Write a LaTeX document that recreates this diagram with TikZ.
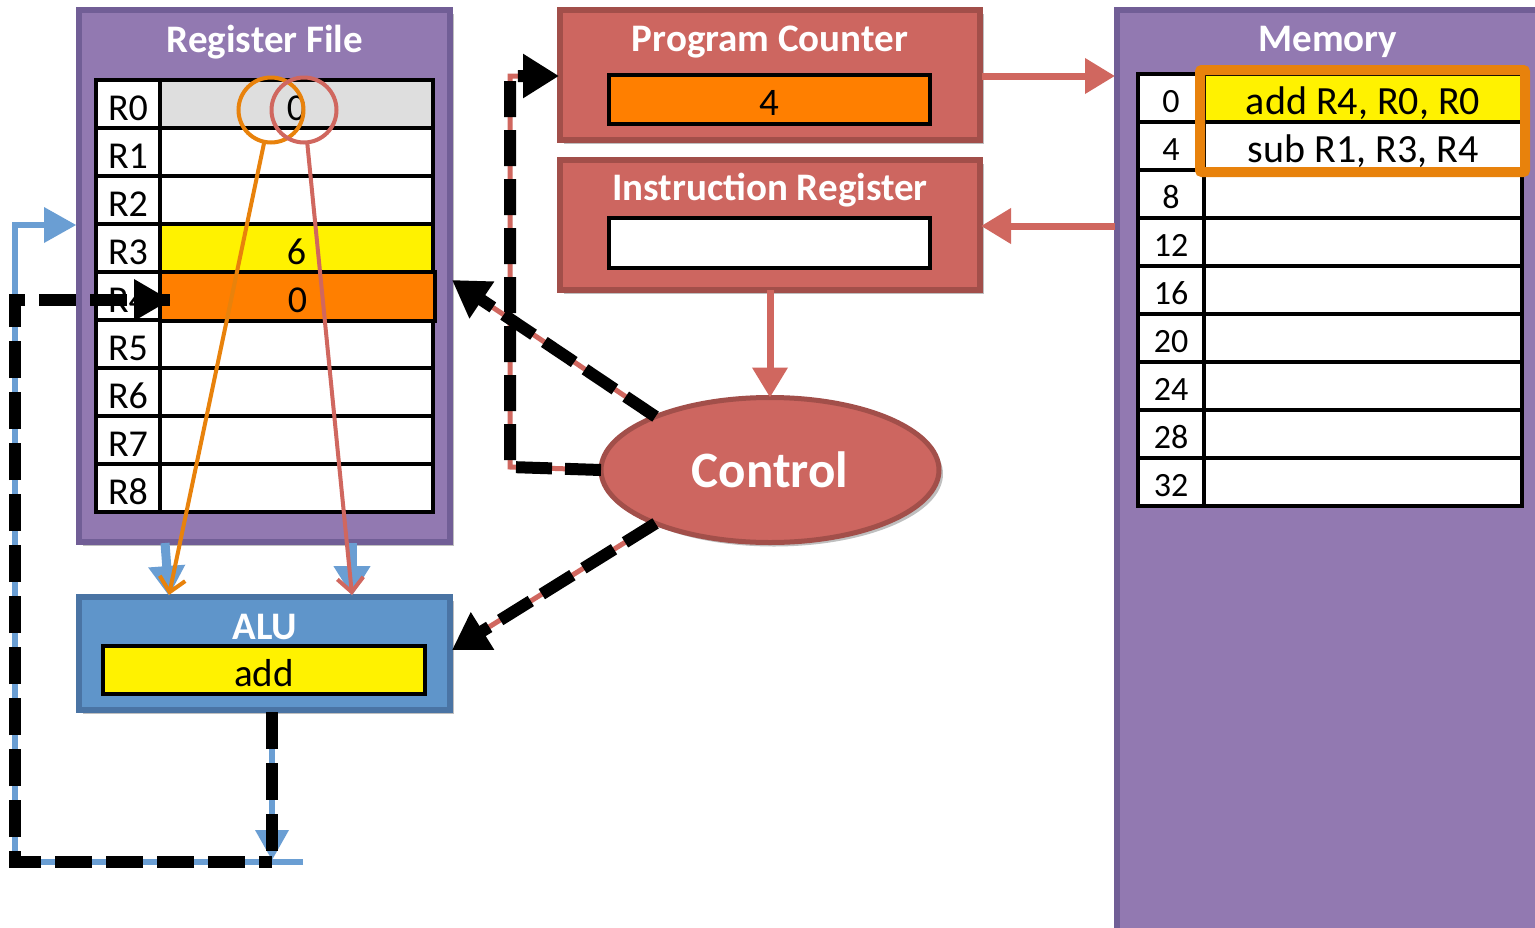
\documentclass[tikz,border=0pt]{standalone}
\usepackage{fontspec}
\setmainfont{Carlito}
\usetikzlibrary{arrows.meta,shapes.geometric,shadows,calc}
\definecolor{purp}{HTML}{9279B1}
\definecolor{purpd}{HTML}{715E96}
\definecolor{redf}{HTML}{CD6660}
\definecolor{redd}{HTML}{A24F4A}
\definecolor{bluef}{HTML}{5F95CA}
\definecolor{blued}{HTML}{4A74A4}
\definecolor{bluel}{HTML}{6A9ED3}
\definecolor{orng}{HTML}{FF7F00}
\definecolor{orhl}{HTML}{E8820C}
\definecolor{gry}{HTML}{DEDEDE}
\definecolor{redl}{HTML}{D0675F}
\begin{document}
\begin{tikzpicture}[x=1pt,y=-1pt,
  every node/.style={inner sep=0pt, outer sep=0pt},
  shad/.style={drop shadow={shadow xshift=4pt, shadow yshift=-4pt, opacity=0.25, fill=black}},
  boxp/.style={draw=purpd, fill=purp, line width=5.5pt, anchor=north west, shad},
  boxr/.style={draw=redd, fill=redf, line width=5.5pt, anchor=north west, shad},
  boxb/.style={draw=blued, fill=bluef, line width=5.5pt, anchor=north west, shad},
  ttl/.style={text=white, font=\fontsize{39}{39}\selectfont\bfseries},
  cellr/.style={draw=black, line width=3.5pt, minimum height=48pt, anchor=north west,
                text height=32pt, text depth=0pt, font=\fontsize{38}{38}\selectfont},
  cellm/.style={draw=black, line width=3.5pt, minimum height=48pt, anchor=north west,
                text height=28pt, text depth=0pt, font=\fontsize{34}{34}\selectfont},
  inbox/.style={draw=black, line width=4pt, anchor=north west,
                text height=32pt, text depth=0pt, font=\fontsize{39}{39}\selectfont},
  redarrow/.style={redl, line width=7pt, -{Triangle[length=30pt,width=34pt]}},
  bluearrow/.style={bluel, line width=9pt, -{Triangle[length=30pt,width=35pt]}},
  ctlline/.style={redl, line width=5pt},
  ctldash/.style={black, line width=12pt, dash pattern=on 36pt off 13pt, -{Triangle[length=36pt,width=42pt]}},
  loopdash/.style={black, line width=12pt, dash pattern=on 37pt off 14pt},
  selcirc/.style={circle, line width=4pt, minimum size=65pt}
]
\useasboundingbox (0,0) rectangle (1535,927);
\clip (0,0) rectangle (1535,927);
\fill[white] (0,0) rectangle (1535,927);

% ---------------- Register file ----------------
\node[boxp, minimum width=371pt, minimum height=532pt] (rf) at (79,10) {};
\node[ttl] (rftitle) at (265,42) {Register File};
\foreach \i/\f/\t in {0/gry/0,1/white/{},2/white/{},3/yellow/6,5/white/{},6/white/{},7/white/{},8/white/{}}{
  \node[cellr, minimum width=64pt, fill=white] (rl\i) at (96,{80+48*\i}) {R\i};
  \node[cellr, minimum width=273pt, fill=\f] (rv\i) at (160,{80+48*\i}) {\t};
}
\node[cellr, minimum width=64pt, fill=white] (rl4) at (96,272) {R4};
\node[cellr, minimum width=275pt, minimum height=49pt, line width=4.5pt, fill=orng] (rv4) at (160,272) {0};

% ---------------- ALU ----------------
\node[boxb, minimum width=371pt, minimum height=113pt] (alu) at (79,597) {};
\node[ttl] (alutitle) at (265,627) {ALU};
\node[inbox, fill=yellow, minimum width=322pt, minimum height=48pt] (aluop) at (103,646) {add};

% ---------------- Program counter / IR ----------------
\node[boxr, minimum width=420pt, minimum height=130pt] (pc) at (560,10) {};
\node[ttl] (pctitle) at (770,42) {Program Counter};
\node[inbox, fill=orng, minimum width=321pt, minimum height=49pt] (pcval) at (609,75) {4};
\node[boxr, minimum width=420pt, minimum height=130pt] (ir) at (560,160) {};
\node[ttl] (irtitle) at (770,190) {Instruction Register};
\node[inbox, fill=white, minimum width=321pt, minimum height=50pt] (irval) at (609,218) {};

% ---------------- Memory ----------------
\node[boxp, minimum width=430pt, minimum height=930pt] (mem) at (1117,10) {};
\node[ttl] (memtitle) at (1328,42) {Memory};
\foreach \i/\a in {0/0,1/4,2/8,3/12,4/16,5/20,6/24,7/28,8/32}{
  \node[cellm, minimum width=66pt, fill=white] (ml\i) at (1138,{74+48*\i}) {\a};
}
\foreach \i in {2,...,8}{
  \node[cellm, minimum width=318pt, fill=white] (mc\i) at (1204,{74+48*\i}) {};
}
\node[cellm, minimum width=318pt, fill=yellow, text height=32pt, font=\fontsize{40}{40}\selectfont] (mc0) at (1204,74) {add R4, R0, R0};
\node[cellm, minimum width=318pt, fill=white, text height=32pt, font=\fontsize{40}{40}\selectfont] (mc1) at (1204,122) {sub R1, R3, R4};
\node[draw=orhl, line width=10pt, rounded corners=2pt, minimum width=325pt, minimum height=102pt, anchor=north west] (hl) at (1200,70) {};

% ---------------- Control ----------------
\node[ellipse, draw=redd, fill=redf, line width=5pt, minimum width=338pt, minimum height=145pt, shad,
      text=white, font=\fontsize{51}{51}\selectfont\bfseries] (ctrl) at (770,470) {Control};

% ---------------- red data arrows ----------------
\coordinate (pcout) at (982,76);
\coordinate (memin) at (1115,76);
\coordinate (memout) at (1115,226);
\coordinate (irin) at (981,226);
\draw[redarrow] (pcout) -- (memin);
\draw[redarrow] (memout) -- (irin);
\draw[redarrow] (ir.south) -- (ctrl.north);

% ---------------- register selection circles ----------------
\node[selcirc, draw=orhl] (oc) at (271,110) {};
\node[selcirc, draw=redl] (rc) at (304,110) {};
\coordinate (aluA) at (169,595);
\coordinate (aluB) at (352,595);
\coordinate (rfA) at (165,543);
\coordinate (rfB) at (352,543);
\draw[bluearrow] (rfA) -- (aluA |- 0,596);
\draw[bluearrow] (rfB) -- (aluB |- 0,596);
\draw[orhl, line width=4pt, -{Straight Barb[length=14pt,width=26pt]}] (oc) -- (aluA);
\draw[redl, line width=4pt, -{Straight Barb[length=14pt,width=26pt]}] (rc) -- (aluB);

% ---------------- write-back loop ----------------
\coordinate (aluout) at (272,712);
\coordinate (busdrop) at (272,860);
\coordinate (busR) at (303,862);
\coordinate (busM) at (272,862);
\coordinate (busL) at (15,862);
\coordinate (busT) at (15,225);
\coordinate (rfwin) at (76,225);
\coordinate (wrL) at (15,300);
\coordinate (wrin) at (170,300);
\draw[bluel, line width=6pt] (busR) -- (busL) -- (busT) -- (busT -| 45,0);
\fill[bluel] (rfwin) -- ++(-32,-18) -- ++(0,36) -- cycle;
\draw[bluel, line width=6pt] (aluout) -- (272,830);
\fill[bluel] (busdrop) -- ++(-17,-30) -- ++(34,0) -- cycle;
\draw[loopdash] (aluout) -- (busM);
\draw[loopdash, dash phase=24pt] (busM) -- (busL) -- (wrL) -- (wrin |- 0,300) ;
\fill[black] (wrin) -- ++(-36,-21) -- ++(0,42) -- cycle;

% ---------------- control signals ----------------
\coordinate (cA) at (510,467);
\coordinate (cB) at (510,76);
\coordinate (pcin) at (559,76);
\coordinate (rfctl) at (452,280);
\coordinate (aluctl) at (452,650);
\draw[ctlline] (ctrl.west) -- (cA) -- (cB) -- (530,76);
\draw[ctldash] (ctrl.west) -- (cA) -- (cB) -- (pcin);
\draw[ctlline] (ctrl.155) -- ($(rfctl)!0.1!(ctrl.155)$);
\draw[ctldash] (ctrl.155) -- (rfctl);
\draw[ctlline] (ctrl.205) -- ($(aluctl)!0.1!(ctrl.205)$);
\draw[ctldash] (ctrl.205) -- (aluctl);
\end{tikzpicture}
\end{document}
